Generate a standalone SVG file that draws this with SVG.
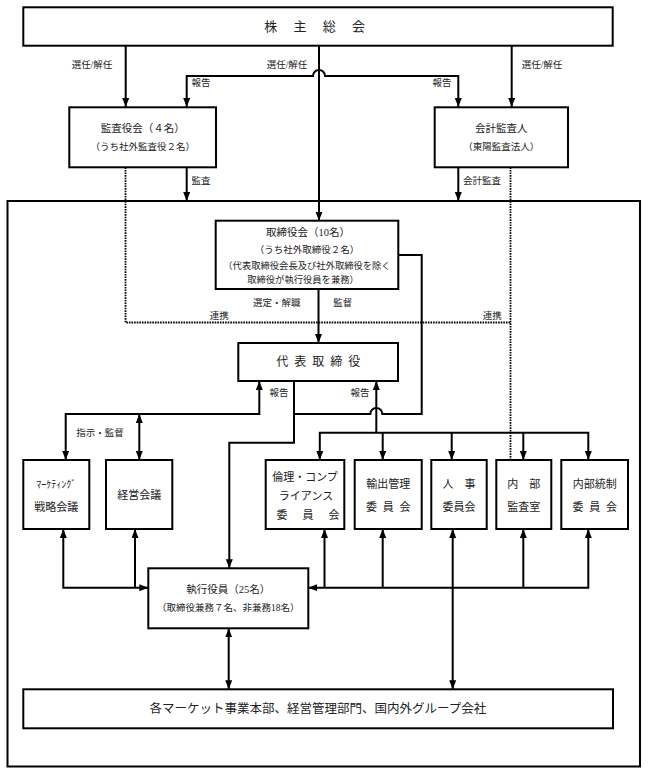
<svg xmlns="http://www.w3.org/2000/svg" width="648" height="774" viewBox="0 0 648 774">
<defs>
<marker id="ah" markerUnits="userSpaceOnUse" markerWidth="10" markerHeight="8" refX="9" refY="3.5" orient="auto-start-reverse"><path d="M0,0 L9,3.5 L0,7 z" fill="#000"/></marker>
<style>
.box{fill:#fff;stroke:#000;stroke-width:2}
.outer{fill:none;stroke:#000;stroke-width:2}
.ln{fill:none;stroke:#000;stroke-width:2}
.a{marker-end:url(#ah)}
.aa{marker-start:url(#ah);marker-end:url(#ah)}
.dot{fill:none;stroke:#000;stroke-width:1.8;stroke-dasharray:1.6 1}
text{font-family:"Liberation Serif","Noto Sans CJK JP",serif;fill:#222;text-anchor:middle;dominant-baseline:central}
.s{font-size:9.5px}
.m{font-size:11px}
.n{font-size:10.5px}
</style>
</defs>
<rect id="outer" class="outer" x="7.5" y="201" width="632.5" height="565.5"/>
<g id="connectors">
<path class="ln a" d="M125.7,46 V107"/>
<path class="ln a" d="M319,46 V220.7"/>
<path class="ln aa" d="M186.7,107 V76 H313 A6,6 0 0 1 325,76 H458.3 V107"/>
<path class="ln a" d="M511.7,46 V107"/>
<path class="ln a" d="M186.7,167.3 V201"/>
<path class="ln a" d="M458.3,167.3 V201"/>
<path class="dot" d="M125.5,167.3 V322.5 H510.5"/>
<path class="dot" d="M510.5,167.3 V460"/>
<path class="ln a" d="M318.5,289 V343"/>
<path class="ln" d="M398.3,255 H421.7 V414 H382.3 A6,6 0 0 0 370.3,414 H294"/>
<path class="ln a" d="M294,381 V442.7 H229.3 V568.3"/>
<path class="ln aa" d="M65.7,460 V414 H259.3 V381"/>
<path class="ln aa" d="M139.3,414 V460"/>
<path class="ln a" d="M376.3,432.7 V381"/>
<path class="ln aa" d="M319.8,460 V432.7 H588.3 V460"/>
<path class="ln a" d="M382.7,432.7 V460"/>
<path class="ln a" d="M451.7,432.7 V460"/>
<path class="ln a" d="M523.3,432.7 V460"/>
<path class="ln aa" d="M63.3,529 V587.7 H148.3"/>
<path class="ln a" d="M135,587.7 V529"/>
<path class="ln aa" d="M588.3,529 V587.7 H308.3"/>
<path class="ln a" d="M324.5,587.7 V529"/>
<path class="ln a" d="M382.7,587.7 V529"/>
<path class="ln a" d="M523.3,587.7 V529"/>
<path class="ln aa" d="M452.7,529 V689.3"/>
<path class="ln aa" d="M228.7,628.3 V689.3"/>
<text class="s" x="92" y="65">選任/解任</text>
<text class="s" x="287" y="65">選任/解任</text>
<text class="s" x="542" y="65">選任/解任</text>
<text class="s" x="201" y="83">報告</text>
<text class="s" x="442" y="83">報告</text>
<text class="s" x="201" y="181">監査</text>
<text class="s" x="482" y="181">会計監査</text>
<text class="s" x="276.7" y="302.7">選定・解職</text>
<text class="s" x="342.7" y="302.7">監督</text>
<text class="s" x="219.3" y="316">連携</text>
<text class="s" x="492.3" y="316">連携</text>
<text class="s" x="279" y="393">報告</text>
<text class="s" x="360" y="393">報告</text>
<text class="s" x="100" y="432.7">指示・監督</text>
</g>
<g id="shareholders">
<rect class="box" x="23.3" y="7.3" width="589.4" height="38.4"/>
<text style="font-size:13px;letter-spacing:6.5px" x="318" y="26.5">株 主 総 会</text>
</g>
<g id="auditboard">
<rect class="box" x="69.3" y="107.3" width="146.7" height="60"/>
<text class="n" x="142.7" y="128">監査役会（４名）</text>
<text class="s" x="142.7" y="147">（うち社外監査役２名）</text>
</g>
<g id="accountingauditor">
<rect class="box" x="434.7" y="107.3" width="133.3" height="60"/>
<text class="n" x="501.3" y="128">会計監査人</text>
<text class="s" x="501.3" y="147">（東陽監査法人）</text>
</g>
<g id="board">
<rect class="box" x="215.7" y="220.7" width="182.6" height="68.3"/>
<text class="n" x="308" y="232.7">取締役会（10名）</text>
<text class="s" x="307" y="250">（うち社外取締役２名）</text>
<text style="font-size:9.3px" x="307" y="266">（代表取締役会長及び社外取締役を除く</text>
<text style="font-size:9.3px" x="303" y="279.5">取締役が執行役員を兼務）</text>
</g>
<g id="representative">
<rect class="box" x="238.3" y="343" width="159.7" height="38"/>
<text style="font-size:12px;letter-spacing:1.5px" x="319" y="362">代 表 取 締 役</text>
</g>
<g id="marketing">
<rect class="box" x="23.3" y="460" width="66" height="69"/>
<text style="font-size:10px" x="56.3" y="484">ﾏｰｹﾃｨﾝｸﾞ</text>
<text class="m" x="56.3" y="506.7">戦略会議</text>
</g>
<g id="management">
<rect class="box" x="106" y="460" width="66.3" height="69"/>
<text class="m" x="139.2" y="495">経営会議</text>
</g>
<g id="ethics">
<rect class="box" x="265.7" y="460" width="78.6" height="69"/>
<text class="m" x="305" y="476.7">倫理・コンプ</text>
<text class="m" x="306" y="495.7">ライアンス</text>
<text style="font-size:11px;letter-spacing:2px" x="309" y="515">委　員　会</text>
</g>
<g id="export">
<rect class="box" x="354.7" y="460" width="67" height="69"/>
<text class="m" x="388.2" y="484">輸出管理</text>
<text style="font-size:11px;letter-spacing:1.5px" x="389" y="506.7">委 員 会</text>
</g>
<g id="personnel">
<rect class="box" x="431.3" y="460" width="55.4" height="69"/>
<text class="m" x="459" y="484">人　事</text>
<text class="m" x="459" y="506.7">委員会</text>
</g>
<g id="internalaudit">
<rect class="box" x="496.3" y="460" width="55" height="69"/>
<text class="m" x="523.8" y="484">内　部</text>
<text class="m" x="523.8" y="506.7">監査室</text>
</g>
<g id="internalcontrol">
<rect class="box" x="561.3" y="460" width="66.7" height="69"/>
<text class="m" x="594.7" y="484">内部統制</text>
<text style="font-size:11px;letter-spacing:1.5px" x="595.5" y="506.7">委 員 会</text>
</g>
<g id="officers">
<rect class="box" x="148.3" y="568.3" width="160" height="60"/>
<text class="n" x="228.3" y="589">執行役員（25名）</text>
<text class="s" x="228.3" y="608">（取締役兼務７名、非兼務18名）</text>
</g>
<g id="divisions">
<rect class="box" x="23.3" y="689.3" width="589.7" height="39"/>
<text style="font-size:12.5px" x="318" y="708.7">各マーケット事業本部、経営管理部門、国内外グループ会社</text>
</g>
</svg>
